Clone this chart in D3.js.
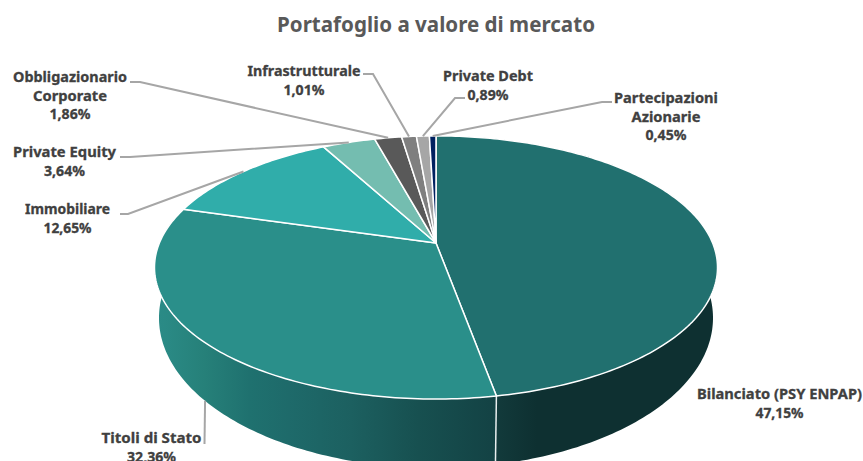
<!DOCTYPE html>
<html><head><meta charset="utf-8">
<script src="https://cdn.jsdelivr.net/npm/d3@7/dist/d3.min.js"></script>
<style>html,body{margin:0;padding:0;background:#fff;overflow:hidden}svg{display:block}
text{font-family:"Noto Sans",sans-serif;font-weight:700}</style></head>
<body><svg id="c" width="863" height="461"></svg>
<script>
const categories=["Bilanciato (PSY ENPAP)","Titoli di Stato","Immobiliare","Private Equity","Obbligazionario Corporate","Infrastrutturale","Private Debt","Partecipazioni Azionarie"];
const values=[47.15,32.36,12.65,3.64,1.86,1.01,0.89,0.45];
const valueLabels=["47,15%","32,36%","12,65%","3,64%","1,86%","1,01%","0,89%","0,45%"];
const labelLines=[["Bilanciato (PSY ENPAP)"],["Titoli di Stato"],["Immobiliare"],["Private Equity"],["Obbligazionario","Corporate"],["Infrastrutturale"],["Private Debt"],["Partecipazioni","Azionarie"]];
const colors=["#21706F","#2A8F8A","#30ADAA","#74BDB0","#595959","#7F7F7F","#A6A6A6","#002060"];

// layout: label anchors, measured line widths, leader elbows
const labelPos=[[779.5,399],[151.5,443],[67.5,214],[64.5,157],[70,82],[304,76],[488,81],[666,103]];
const lineWidths=[[165,48],[100,49],[85,48],[103,41],[114,74,41],[113,41],[90,41],[104,69,41]];
const elbows=[null,[[204.5,444]],[[128,214],[120,214]],[[130,157],[120,157]],[[140,82],[130,82]],[[373,74],[363,74]],[[455,98],[465,98]],[[602,102],[612,102]]];
const lineH=18.7;
const apex=[436,243], K=-0.186, A=276.6, B=127;
const ell={cx:435.5,cy:267.5,rx:281.5,ry:131.5}, base={cx:435.5,cy:318,rx:277,ry:150};

const svg=d3.select("#c");
const defs=svg.append("defs");
function grad(id,stops){const g=defs.append("linearGradient").attr("id",id).attr("gradientUnits","userSpaceOnUse").attr("x1",154).attr("x2",717).attr("y1",0).attr("y2",0);
 stops.forEach(s=>g.append("stop").attr("offset",s[0]).attr("stop-color",s[1]));}
grad("w0",[[0,"#0E3031"],[0.61,"#123A3B"],[0.68,"#0E3031"],[1,"#0E3031"]]);
grad("w1",[[0,"#2B8B87"],[0.02,"#2A8A85"],[0.09,"#268079"],[0.17,"#1F716F"],[0.24,"#1E6A6A"],[0.35,"#1C6060"],[0.47,"#175050"],[0.606,"#134244"],[1,"#134244"]]);

const pie=d3.pie().value(d=>d).sort(null)(values);
function rim(t){const u=Math.sin(t),v=-Math.cos(t),w=1+K*v;return [apex[0]+A*u/w,apex[1]+B*v/w];}
function low(p){return [base.cx+(p[0]-ell.cx)*base.rx/ell.rx,base.cy+(p[1]-ell.cy)*base.ry/ell.ry];}
const line=d3.line();
function arcPts(a){const n=Math.max(2,Math.ceil((a.endAngle-a.startAngle)*60));return d3.range(n+1).map(i=>rim(a.startAngle+(a.endAngle-a.startAngle)*i/n));}

// walls: one sub-path per rim segment so the hull has no notch
[0,1].forEach(i=>{const r=arcPts(pie[i]);
 const d=d3.pairs(r).map(([p,q])=>line([p,q,low(q),low(p)])+"Z").join("");
 svg.append("path").attr("d",d).attr("fill",`url(#w${i})`).attr("fill-rule","nonzero");});
// seam
{const p=rim(pie[0].endAngle);svg.append("path").attr("d",line([p,low(p)])).attr("stroke","#E8EEEE").attr("stroke-width",1.5).attr("fill","none");}
// top face
pie.forEach((a,i)=>{svg.append("path").attr("d",line([apex].concat(arcPts(a)))+"Z").attr("fill",colors[i]).attr("stroke","#fff").attr("stroke-width",1.5).attr("stroke-linejoin","round");});
// leaders
pie.forEach((a,i)=>{const el=elbows[i];if(!el)return;const m=rim((a.startAngle+a.endAngle)/2);const s=i===1?low(m):m;
 svg.append("path").attr("d",line([s].concat(el))).attr("fill","none").attr("stroke","#A6A6A6").attr("stroke-width",2);});
// labels
pie.forEach((a,i)=>{labelLines[i].concat([valueLabels[i]]).forEach((s,j)=>{
 svg.append("text").attr("text-anchor","middle").attr("fill","#404040").attr("stroke","#404040").attr("stroke-width",0.3).attr("font-size",14.4)
  .attr("x",labelPos[i][0]).attr("y",labelPos[i][1]+j*lineH)
  .attr("textLength",lineWidths[i][j]).attr("lengthAdjust","spacingAndGlyphs").text(s);});});
svg.append("text").attr("x",436).attr("y",32).attr("text-anchor","middle").attr("fill","#595959").attr("font-size",20.6)
 .attr("textLength",318).attr("lengthAdjust","spacingAndGlyphs").text("Portafoglio a valore di mercato");
</script></body></html>
